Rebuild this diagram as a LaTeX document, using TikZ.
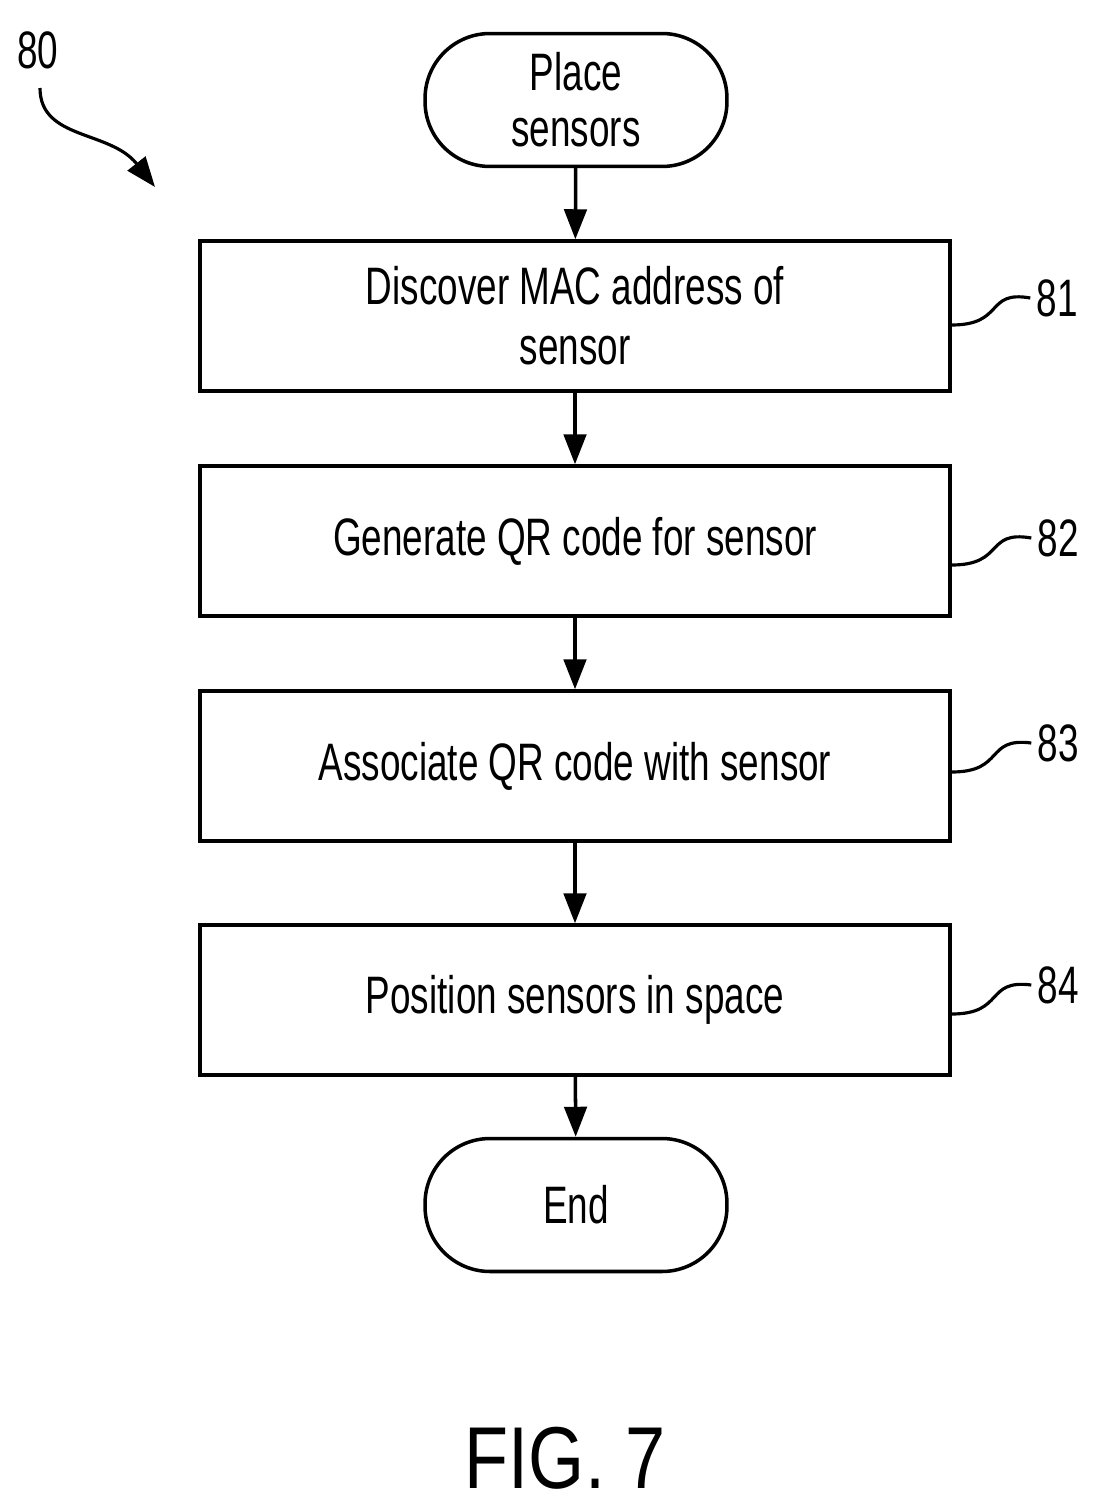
\documentclass[tikz,border=0pt]{standalone}
\usepackage{fontspec}
\setmainfont{Liberation Sans}[FakeStretch=0.7]
\newfontfamily\figfont{Liberation Sans}[FakeStretch=0.82]
\usetikzlibrary{shapes.geometric, arrows.meta, positioning, calc}

\tikzset{
  stepbox/.style={draw, line width=2pt, minimum width=15cm, minimum height=3cm, align=center, font=\fontsize{30}{34}\selectfont},
  term/.style={draw, line width=2pt, rounded corners=1.3cm, minimum width=6.04cm, minimum height=2.66cm, align=center, font=\fontsize{30}{32}\selectfont},
  flow/.style={line width=2pt, -{Triangle[length=0.6cm, width=0.45cm]}},
  ref/.style={font=\fontsize{30}{34}\selectfont},
  lead/.style={line width=1.8pt}
}

\begin{document}
\begin{tikzpicture}[x=0.02cm, y=-0.02cm]
  \useasboundingbox (0,0) rectangle (1101,1500);

  % Terminals and steps
  \node[term] (start) at (576,100) {Place\\sensors};
  \node[stepbox] (mac) at (575,316) {Discover MAC address of\\sensor};
  \node[stepbox] (gen) at (575,541) {Generate QR code for sensor};
  \node[stepbox] (assoc) at (575,766) {Associate QR code with sensor};
  \node[stepbox] (pos) at (575,1000) {Position sensors in space};
  \node[term] (end) at (576,1205) {End};

  % Flow
  \draw[flow] (start) -- (mac);
  \draw[flow] (mac) -- (gen);
  \draw[flow] (gen) -- (assoc);
  \draw[flow] (assoc) -- (pos);
  \draw[flow] (pos) -- (end);

  % Reference numerals
  \node[ref] (r81) at (1057,298) {81};
  \node[ref] (r82) at (1058,538) {82};
  \node[ref] (r83) at (1058,743) {83};
  \node[ref] (r84) at (1058,985) {84};
  \draw[lead] (mac.east |- 0,325) .. controls (1005,325) and (985,290) .. (r81.west);
  \draw[lead] (gen.east |- 0,565) .. controls (1005,565) and (985,530) .. (r82.west);
  \draw[lead] (assoc.east |- 0,772) .. controls (1005,772) and (985,737) .. (r83.west);
  \draw[lead] (pos.east |- 0,1014) .. controls (1005,1014) and (985,979) .. (r84.west);

  \node[ref] (r80) at (38,50) {80};
  \coordinate (tip80) at (155,187);
  \draw[lead, -{Triangle[length=0.6cm, width=0.45cm]}] (40,88) .. controls (40,140) and (110,130) .. (tip80);

  \node[font=\figfont\fontsize{50}{56}\selectfont] (fig) at (565,1458) {FIG. 7};
\end{tikzpicture}
\end{document}
